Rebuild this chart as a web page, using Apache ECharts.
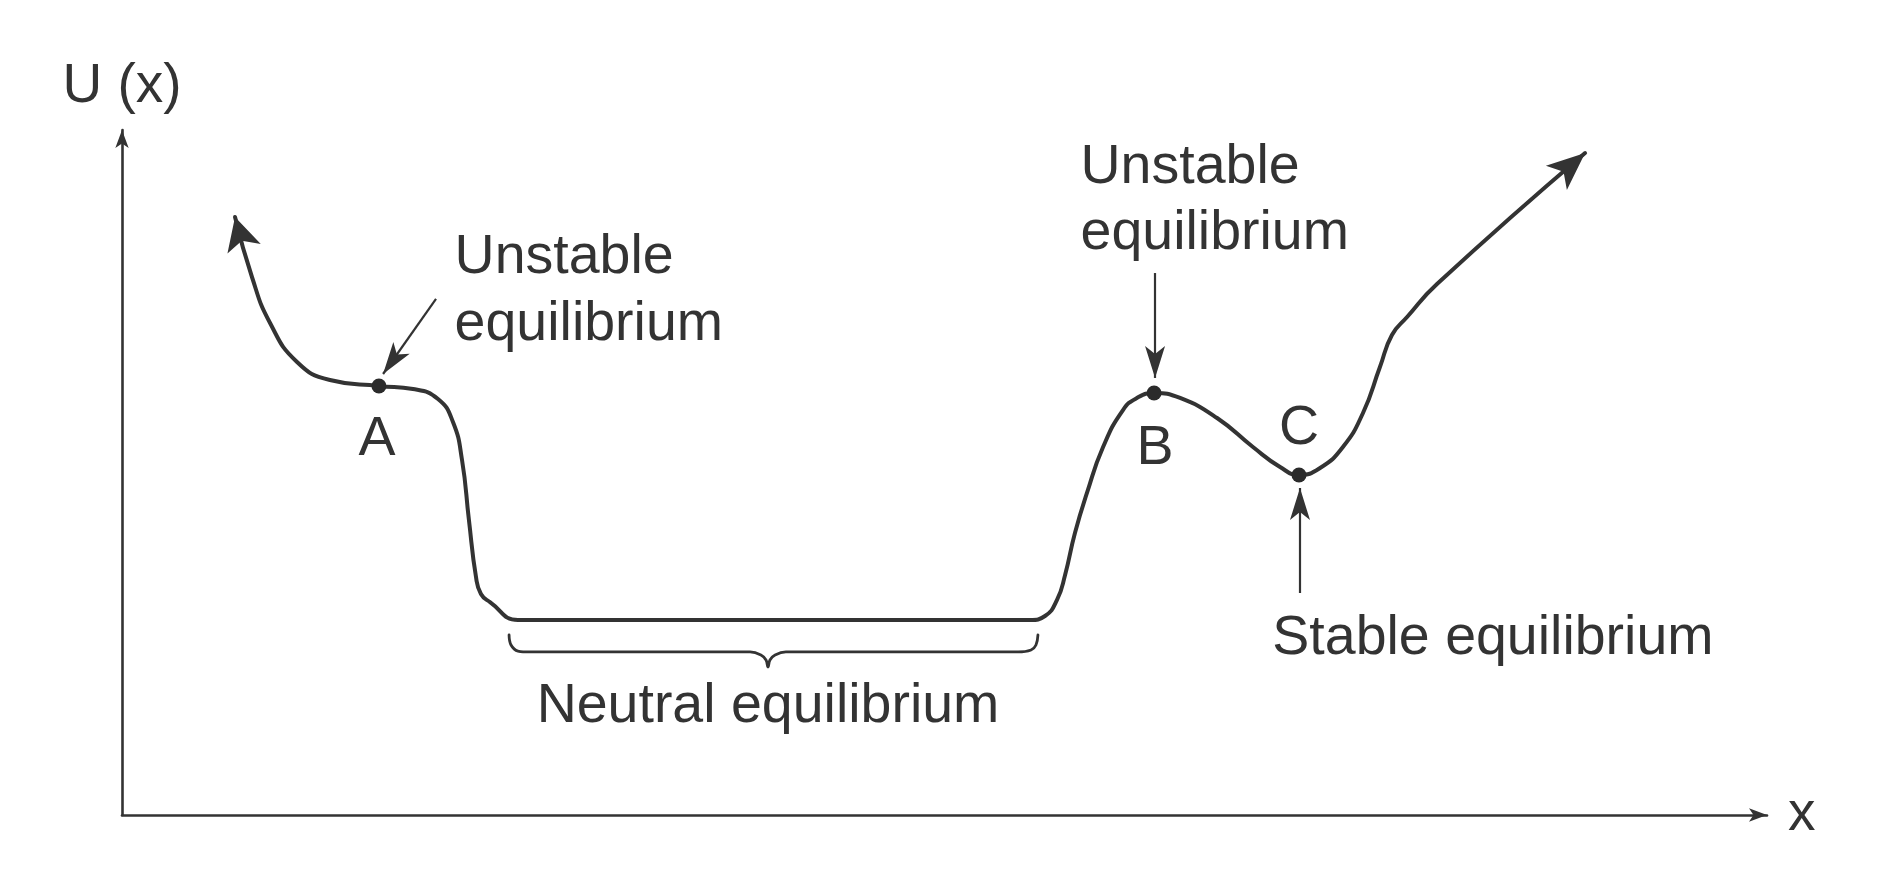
<!DOCTYPE html>
<html>
<head>
<meta charset="utf-8">
<script src="https://cdn.jsdelivr.net/npm/echarts@6/dist/echarts.min.js"></script>
<style>
html,body{margin:0;padding:0;background:#ffffff;}
#chart{width:1904px;height:872px;}
</style>
</head>
<body>
<div id="chart"></div>
<script>
// ---- data (arbitrary units, x: 0..100, U: 0..100) ----
const curveX = [6.87, 7.90, 9.00, 10.64, 12.64, 15.62, 17.69, 19.21, 20.12, 20.67, 21.09, 21.52, 21.82, 22.37, 24.07, 25.71, 53.98, 55.20, 56.11, 56.84, 57.33, 57.93, 58.66, 59.64, 60.85, 61.70, 62.74, 64.32, 66.57, 68.75, 70.40, 71.55, 72.83, 74.22, 75.44, 76.47, 77.20, 78.12, 79.94, 88.94];
const curveY = [87.30, 78.54, 71.82, 66.13, 63.50, 62.63, 62.19, 60.73, 57.37, 51.82, 43.07, 34.74, 32.26, 31.09, 28.47, 28.47, 28.47, 28.47, 29.05, 31.39, 35.04, 41.17, 47.01, 53.72, 59.12, 60.88, 61.61, 60.88, 57.96, 53.72, 50.80, 49.64, 50.66, 53.72, 58.69, 65.40, 70.07, 72.70, 77.52, 96.64];

const pointNames = ['A', 'B', 'C'];
const pointX = [15.62, 62.74, 71.55];
const pointY = [62.63, 61.61, 49.64];

const braceX = [23.53, 23.65, 24.07, 24.80, 38.18, 38.84, 39.15, 39.27, 39.39, 39.70, 40.36, 54.47, 55.26, 55.56, 55.68];
const braceY = [26.28, 24.82, 23.94, 23.80, 23.80, 23.36, 22.63, 21.61, 22.63, 23.36, 23.80, 23.80, 24.09, 24.82, 26.28];

const noteArrowFrom = [[19.09, 75.33], [62.80, 79.12], [71.61, 32.41]];
const noteArrowTo = [[15.87, 64.38], [62.80, 63.80], [71.61, 47.74]];

const noteTexts = ['Unstable\nequilibrium', 'Unstable\nequilibrium', 'Stable equilibrium', 'Neutral equilibrium'];
const noteX = [20.22, 58.27, 69.93, 39.27];
const noteY = [76.42, 89.64, 25.70, 15.77];

const axisNames = { y: 'U (x)', x: 'x' };

// ---- styles ----
const INK = '#333333';
const TEXT = '#333333';
const FONT = "'Liberation Sans', Arial, Helvetica, sans-serif";
const FS = 55.5;

const curveData = curveX.map((x, i) => {
  const item = { value: [x, curveY[i]] };
  if (i === 0) {
    item.symbol = 'arrow'; item.symbolSize = [26, 33]; item.symbolRotate = 16;
  } else if (i === curveX.length - 1) {
    item.symbol = 'arrow'; item.symbolSize = [24, 38]; item.symbolRotate = -49;
  }
  return item;
});

const pointLabelOffset = { A: [-2, 54], B: [1, 56], C: [0, -46] };
const pointData = pointNames.map((n, i) => ({
  name: n,
  value: [pointX[i], pointY[i]],
  label: { offset: pointLabelOffset[n] }
}));

const noteAlign = ['left', 'left', 'left', 'center'];
const noteLineHeight = [67, 66, 66, 66];
const noteData = noteTexts.map((t, i) => ({
  name: t,
  value: [noteX[i], noteY[i]],
  label: { align: noteAlign[i], lineHeight: noteLineHeight[i] }
}));

const labelCommon = {
  show: true, position: 'inside', formatter: '{b}',
  fontSize: FS, color: TEXT, fontFamily: FONT, opacity: 1,
  textBorderWidth: 0, textBorderColor: 'transparent', verticalAlign: 'middle'
};

const chart = echarts.init(document.getElementById('chart'), null, { renderer: 'canvas' });
chart.setOption({
  animation: false,
  backgroundColor: '#ffffff',
  grid: { left: 122, right: 137, top: 130, bottom: 57, containLabel: false, outerBoundsMode: 'none' },
  xAxis: {
    type: 'value', min: 0, max: 100,
    name: axisNames.x, nameLocation: 'end', nameGap: 21,
    nameTextStyle: { fontSize: 55, color: TEXT, fontFamily: FONT },
    axisLine: { show: true, onZero: false, symbol: ['none', 'arrow'], symbolSize: [10, 18], symbolOffset: [0, 0], lineStyle: { color: INK, width: 2.6 } },
    axisTick: { show: false }, axisLabel: { show: false }, splitLine: { show: false }
  },
  yAxis: {
    type: 'value', min: 0, max: 100,
    name: axisNames.y, nameLocation: 'end', nameGap: 16,
    nameTextStyle: { fontSize: 55, color: TEXT, fontFamily: FONT },
    axisLine: { show: true, onZero: false, symbol: ['none', 'arrow'], symbolSize: [10, 18], symbolOffset: [0, 0], lineStyle: { color: INK, width: 2.6 } },
    axisTick: { show: false }, axisLabel: { show: false }, splitLine: { show: false }
  },
  series: [
    {
      type: 'line', name: 'U(x)', data: curveData,
      smooth: 0.5, symbol: 'none', showSymbol: true, showAllSymbol: true, clip: false,
      lineStyle: { color: INK, width: 4, cap: 'round', join: 'round' },
      itemStyle: { color: INK, borderWidth: 0, opacity: 1 },
      z: 3
    },
    {
      type: 'line', name: 'brace', data: braceX.map((x, i) => [x, braceY[i]]),
      smooth: 0.4, symbol: 'none', clip: false,
      lineStyle: { color: INK, width: 2.8, cap: 'round', join: 'round' },
      z: 2
    },
    {
      type: 'lines', coordinateSystem: 'cartesian2d',
      symbol: ['none', 'arrow'], symbolSize: [[15, 32], [15, 32]],
      lineStyle: { color: INK, width: 2.2, opacity: 1, curveness: 0 },
      itemStyle: { color: INK },
      data: noteArrowFrom.map((f, i) => ({ coords: [f, noteArrowTo[i]] })),
      z: 4
    },
    {
      type: 'scatter', name: 'points', data: pointData,
      symbol: 'circle', symbolSize: 15,
      itemStyle: { color: '#2b2b2b', opacity: 1 },
      label: labelCommon,
      z: 5
    },
    {
      type: 'scatter', name: 'notes', data: noteData,
      symbol: 'circle', symbolSize: 0,
      itemStyle: { color: 'rgba(0,0,0,0)', opacity: 1 },
      label: labelCommon,
      z: 5
    }
  ]
});
</script>
</body>
</html>
